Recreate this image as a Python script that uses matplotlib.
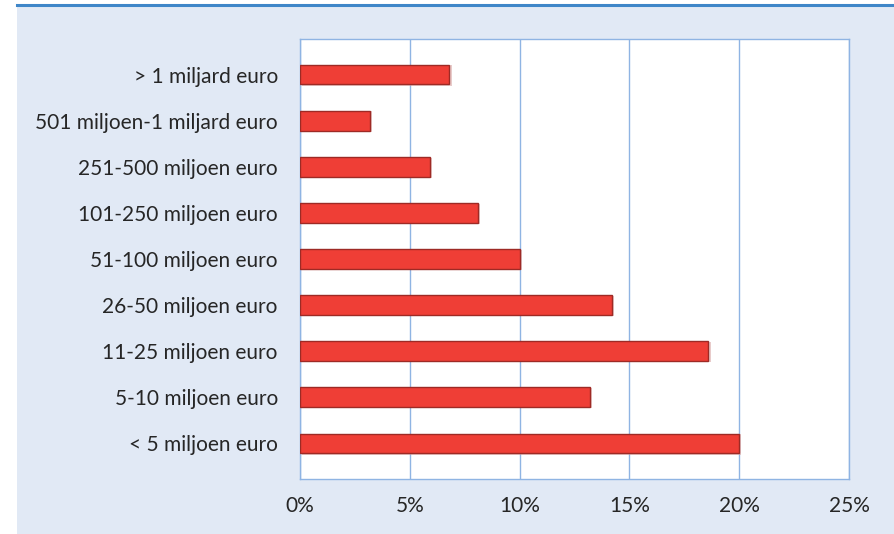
import matplotlib
matplotlib.use('Agg')
import matplotlib.pyplot as plt
from matplotlib.patches import Rectangle
from matplotlib.ticker import FuncFormatter

# omzetklassen (van onder naar boven) en aandeel in procenten
categories = [
    '< 5 miljoen euro',
    '5-10 miljoen euro',
    '11-25 miljoen euro',
    '26-50 miljoen euro',
    '51-100 miljoen euro',
    '101-250 miljoen euro',
    '251-500 miljoen euro',
    '501 miljoen-1 miljard euro',
    '> 1 miljard euro',
]
shares = [20.0, 13.2, 18.6, 14.2, 10.0, 8.1, 5.9, 3.2, 6.8]
xticks = [0, 5, 10, 15, 20, 25]

plt.rcParams['font.family'] = ['Lato', 'DejaVu Sans']

BG = '#e1e9f5'
GRID = '#8fb4e3'
BAR = '#ef3e36'
EDGE = '#9e2a25'
TEXT = '#262626'

fig = plt.figure(figsize=(8.95, 5.34), dpi=100)
fig.patch.set_facecolor('white')

# lichtblauw kader met blauwe lijn bovenaan
fig.patches.append(Rectangle((17 / 895, 0), 1 - 17 / 895, 1 - 6 / 534,
                             transform=fig.transFigure, facecolor=BG,
                             edgecolor='none', zorder=-2))
fig.lines.append(plt.Line2D([17 / 895, 1], [1 - 5 / 534, 1 - 5 / 534],
                            transform=fig.transFigure, color='#3f86c8',
                            linewidth=2.2, zorder=-1))

ax = fig.add_axes([300 / 895, 1 - 479 / 534, 549 / 895, 440 / 534])
ax.set_facecolor('white')

y = range(len(categories))
# lichte schaduw achter de balken
ax.barh([i - 0.02 for i in y], shares, height=0.44, left=0.1,
        color='#d9a9a7', alpha=0.6, zorder=2)
ax.barh(y, shares, height=0.43, color=BAR, edgecolor=EDGE,
        linewidth=1.0, zorder=3)

ax.set_xlim(0, 25)
ax.set_ylim(-0.77, len(categories) - 0.23)
ax.set_xticks(xticks)
ax.xaxis.set_major_formatter(FuncFormatter(lambda v, p: f'{v:.0f}%'))
ax.set_yticks(list(y))
ax.set_yticklabels(categories)

ax.grid(axis='x', color=GRID, linewidth=1.0, zorder=1)
ax.set_axisbelow(True)
for s in ax.spines.values():
    s.set_color(GRID)
    s.set_linewidth(1.0)

ax.tick_params(axis='both', length=0, labelsize=15, colors=TEXT)
ax.tick_params(axis='y', pad=16)
ax.tick_params(axis='x', pad=12)

plt.savefig('out.png', dpi=100, facecolor=fig.get_facecolor())
